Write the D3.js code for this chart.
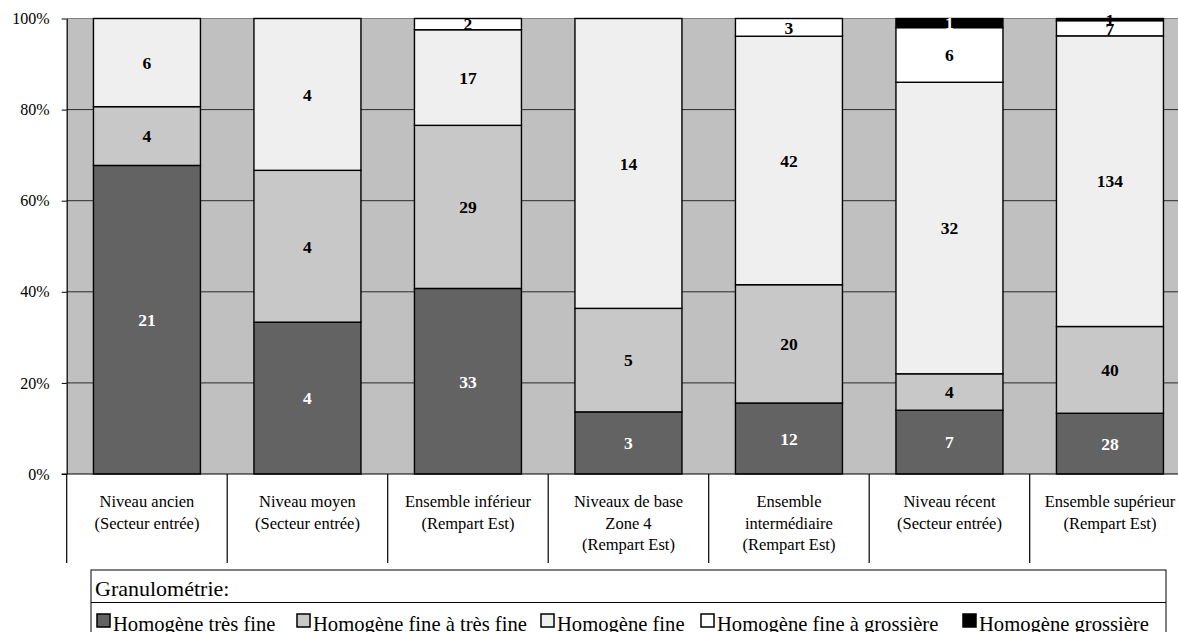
<!DOCTYPE html>
<html>
<head>
<meta charset="utf-8">
<script src="https://cdn.jsdelivr.net/npm/d3@7/dist/d3.min.js"></script>
<style>
  html, body { margin: 0; padding: 0; background: #fff; }
  svg, svg text { font-family: "Liberation Serif", "Tinos", "Times New Roman", "Nimbus Roman", "DejaVu Serif", serif; }
</style>
</head>
<body>
<svg id="chart" width="1178" height="632"></svg>
<script>
// ---------- DATA ----------
const categories = [
  "Niveau ancien|(Secteur entrée)",
  "Niveau moyen|(Secteur entrée)",
  "Ensemble inférieur|(Rempart Est)",
  "Niveaux de base|Zone 4|(Rempart Est)",
  "Ensemble|intermédiaire|(Rempart Est)",
  "Niveau récent|(Secteur entrée)",
  "Ensemble supérieur|(Rempart Est)"
];
const seriesNames = [
  "Homogène très fine",
  "Homogène fine à très fine",
  "Homogène fine",
  "Homogène fine à grossière",
  "Homogène grossière"
];
const veryFine       = [21, 4, 33, 3, 12, 7, 28];
const fineToVeryFine = [4, 4, 29, 5, 20, 4, 40];
const fine           = [6, 4, 17, 14, 42, 32, 134];
const fineToCoarse   = [0, 0, 2, 0, 3, 6, 7];
const coarse         = [0, 0, 0, 0, 0, 1, 1];
const yTickValues = [0, 0.2, 0.4, 0.6, 0.8, 1];
const legendTitle = "Granulométrie:";

// ---------- STYLE / LAYOUT ----------
const FONT = '"Liberation Serif", "Tinos", "Times New Roman", "Nimbus Roman", "DejaVu Serif", serif';
const colors = ["#636363", "#c8c8c8", "#efefef", "#ffffff", "#000000"];
const labelColors = ["#ffffff", "#000000", "#000000", "#000000", "#ffffff"];
const plot = { left: 66.7, right: 1190.2, top: 18.5, bottom: 474 };
const legendX = [97, 297, 541, 701, 963];

const seriesValues = [veryFine, fineToVeryFine, fine, fineToCoarse, coarse];
const rows = categories.map((c, i) => {
  const r = { cat: c };
  seriesNames.forEach((s, k) => r[s] = seriesValues[k][i]);
  return r;
});

const svg = d3.select("#chart").attr("font-family", FONT);

const x = d3.scaleBand().domain(categories)
  .range([plot.left, plot.right])
  .paddingInner(1 / 3).paddingOuter(1 / 6);
const y = d3.scaleLinear().domain([0, 1]).range([plot.bottom, plot.top]);

// plot background
svg.append("rect")
  .attr("x", plot.left).attr("y", plot.top)
  .attr("width", 1178 - plot.left).attr("height", plot.bottom - plot.top)
  .attr("fill", "#c0c0c0");

// gridlines
svg.append("g").selectAll("line").data(yTickValues.filter(v => v > 0)).join("line")
  .attr("x1", plot.left).attr("x2", 1178)
  .attr("y1", d => y(d)).attr("y2", d => y(d))
  .attr("stroke", d => d === 1 ? "#808080" : "#2a2a2a").attr("stroke-width", 1);

// stacked bars
const stack = d3.stack().keys(seriesNames).offset(d3.stackOffsetExpand);
const stacked = stack(rows);

const gBars = svg.append("g");
stacked.forEach((layer, k) => {
  gBars.append("g").selectAll("rect")
    .data(layer.filter(d => d.data[seriesNames[k]] > 0)).join("rect")
    .attr("x", d => x(d.data.cat))
    .attr("width", x.bandwidth())
    .attr("y", d => y(d[1]))
    .attr("height", d => y(d[0]) - y(d[1]))
    .attr("fill", colors[k])
    .attr("stroke", "#000").attr("stroke-width", 1.4);
});

// value labels
const gLabels = svg.append("g");
stacked.forEach((layer, k) => {
  gLabels.append("g").selectAll("text")
    .data(layer.filter(d => d.data[seriesNames[k]] > 0)).join("text")
    .attr("font-family", FONT)
    .attr("x", d => x(d.data.cat) + x.bandwidth() / 2)
    .attr("y", d => (y(d[0]) + y(d[1])) / 2)
    .attr("dy", "0.36em")
    .attr("text-anchor", "middle")
    .attr("font-size", 17.5).attr("font-weight", "bold")
    .attr("fill", d => (k === 4 && (y(d[0]) - y(d[1])) < 6) ? "#000" : labelColors[k])
    .text(d => d.data[seriesNames[k]]);
});

// y axis
const yAxis = d3.axisLeft(y).tickValues(yTickValues)
  .tickFormat(d3.format(".0%")).tickSize(5).tickSizeOuter(0).tickPadding(12);
const gy = svg.append("g").attr("transform", `translate(${plot.left},0)`).call(yAxis)
  .attr("font-family", FONT);
gy.select(".domain").attr("stroke", "#000").attr("stroke-width", 1.2);
gy.selectAll(".tick line").attr("stroke", "#000");
gy.selectAll(".tick text").attr("font-size", 16).attr("fill", "#000")
  .attr("font-family", FONT);

// baseline
svg.append("line")
  .attr("x1", plot.left - 5).attr("x2", 1178)
  .attr("y1", y(0)).attr("y2", y(0))
  .attr("stroke", "#000").attr("stroke-width", 1.2);

// category separators
const bounds = d3.range(categories.length + 1).map(i => plot.left + i * x.step());
svg.append("g").selectAll("line").data(bounds).join("line")
  .attr("x1", d => d).attr("x2", d => d)
  .attr("y1", y(0)).attr("y2", 563)
  .attr("stroke", "#000").attr("stroke-width", 1.2);

// category labels
const gCat = svg.append("g");
categories.forEach(c => {
  const t = gCat.append("text")
    .attr("font-family", FONT)
    .attr("text-anchor", "middle")
    .attr("font-size", 16.5).attr("fill", "#000");
  c.split("|").forEach((line, i) => {
    t.append("tspan")
      .attr("x", x(c) + x.bandwidth() / 2)
      .attr("y", 507 + i * 21.5)
      .text(line);
  });
});

// legend
const lg = svg.append("g");
lg.append("rect").attr("x", 91).attr("y", 570).attr("width", 1075).attr("height", 80)
  .attr("fill", "#fff").attr("stroke", "#000").attr("stroke-width", 1);
lg.append("line").attr("x1", 91).attr("x2", 1166).attr("y1", 602.5).attr("y2", 602.5)
  .attr("stroke", "#000").attr("stroke-width", 1);
lg.append("text").attr("x", 95).attr("y", 595.5).attr("font-family", FONT)
  .attr("font-size", 22).attr("fill", "#000").text(legendTitle);
seriesNames.forEach((s, k) => {
  lg.append("rect").attr("x", legendX[k]).attr("y", 614)
    .attr("width", 13).attr("height", 13)
    .attr("fill", colors[k]).attr("stroke", "#000").attr("stroke-width", 1.5);
  lg.append("text").attr("x", legendX[k] + 16).attr("y", 631).attr("font-family", FONT)
    .attr("font-size", 20.6).attr("fill", "#000").text(s);
});
</script>
</body>
</html>
